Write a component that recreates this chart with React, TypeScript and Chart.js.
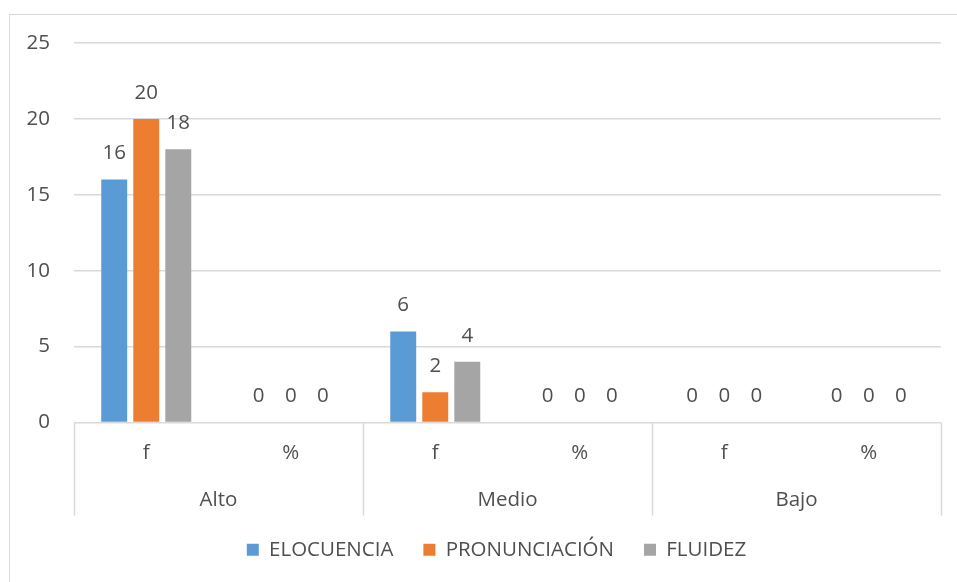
import React, { useEffect, useRef } from "react";
import { Chart, registerables } from "chart.js";

Chart.register(...registerables);

const subLabels = ["f", "%", "f", "%", "f", "%"];
const groupLabels = ["Alto", "Medio", "Bajo"];
const seriesNames = ["ELOCUENCIA", "PRONUNCIACIÓN", "FLUIDEZ"];
const elocuencia = [16, 0, 6, 0, 0, 0];
const pronunciacion = [20, 0, 2, 0, 0, 0];
const fluidez = [18, 0, 4, 0, 0, 0];
const seriesColors = ["#5B9BD5", "#ED7D31", "#A5A5A5"];
const yTicks = [0, 5, 10, 15, 20, 25];

const FONT = "'Open Sans', sans-serif";
const FS = 20.5;
const TEXT = "#4F4F4F";
const LINE = "#D9D9D9";

const labelsPlugin = {
  id: "valueLabels",
  afterDatasetsDraw(chart: any) {
    const ctx = chart.ctx;
    ctx.save();
    ctx.font = `${FS}px ${FONT}`;
    ctx.fillStyle = TEXT;
    ctx.textAlign = "center";
    ctx.textBaseline = "middle";
    chart.data.datasets.forEach((ds: any, i: number) => {
      const meta = chart.getDatasetMeta(i);
      meta.data.forEach((bar: any, j: number) => {
        ctx.fillText(String(ds.data[j]), bar.x, bar.y - 26);
      });
    });
    ctx.restore();
  },
};

const legendShiftPlugin = {
  id: "legendShift",
  afterLayout(chart: any) {
    if (chart.legend) chart.legend.left = 52;
  },
};

const groupAxisPlugin = {
  id: "groupAxis",
  afterDraw(chart: any) {
    const ctx = chart.ctx;
    const area = chart.chartArea;
    const n = subLabels.length;
    const step = (area.right - area.left) / n;
    const top = area.bottom;
    const bottom = area.bottom + 93;
    ctx.save();
    ctx.strokeStyle = LINE;
    ctx.lineWidth = 1.5;
    for (let g = 0; g <= groupLabels.length; g++) {
      const px = Math.round(area.left + g * 2 * step) + 0.5;
      ctx.beginPath();
      ctx.moveTo(px, top);
      ctx.lineTo(px, bottom);
      ctx.stroke();
    }
    ctx.font = `${FS}px ${FONT}`;
    ctx.fillStyle = TEXT;
    ctx.textAlign = "center";
    ctx.textBaseline = "middle";
    groupLabels.forEach((g, i) => {
      const cx = area.left + (i * 2 + 1) * step;
      ctx.fillText(g, cx, area.bottom + 78);
    });
    ctx.restore();
  },
};

export default function App() {
  const ref = useRef<HTMLCanvasElement>(null);
  useEffect(() => {
    if (!ref.current) return;
    const chart = new Chart(ref.current, {
      type: "bar",
      data: {
        labels: subLabels,
        datasets: [elocuencia, pronunciacion, fluidez].map((d, i) => ({
          label: seriesNames[i],
          data: d,
          backgroundColor: seriesColors[i],
          borderWidth: 0,
          categoryPercentage: 0.665,
          barPercentage: 0.81,
        })),
      },
      options: {
        responsive: false,
        animation: false,
        layout: { padding: { top: 43, right: 16, left: 0, bottom: 12 } },
        plugins: {
          tooltip: { enabled: false },
          legend: {
            position: "bottom",
            labels: {
              font: { family: FONT, size: FS },
              color: TEXT,
              boxWidth: 12,
              boxHeight: 12,
              padding: 30,
            },
          },
        },
        scales: {
          x: {
            grid: { display: false, drawTicks: false },
            border: { display: false },
            ticks: {
              font: { family: FONT, size: FS },
              color: TEXT,
              padding: 18,
            },
            afterFit(scale: any) {
              scale.height = 87;
            },
          },
          y: {
            min: 0,
            max: 25,
            afterBuildTicks(scale: any) {
              scale.ticks = yTicks.map((v) => ({ value: v }));
            },
            grid: { color: LINE, lineWidth: 1.5, drawTicks: false },
            border: { display: false },
            ticks: {
              font: { family: FONT, size: FS },
              color: TEXT,
              padding: 24,
            },
            afterFit(scale: any) {
              scale.width = 74;
            },
          },
        },
      },
      plugins: [labelsPlugin, groupAxisPlugin, legendShiftPlugin],
    });
    return () => chart.destroy();
  }, []);
  return (
    <div style={{ position: "fixed", left: 0, top: 0, width: 957, height: 582, background: "#fff" }}>
      <div
        style={{
          position: "absolute",
          left: 9,
          top: 14,
          width: 960,
          height: 580,
          border: `1.5px solid ${LINE}`,
          boxSizing: "border-box",
        }}
      />
      <canvas ref={ref} width={957} height={582} style={{ position: "absolute", left: 0, top: 0 }} />
    </div>
  );
}
